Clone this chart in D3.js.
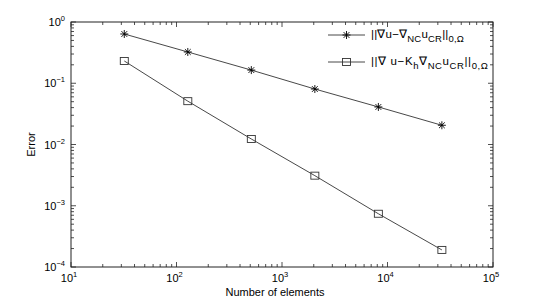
<!DOCTYPE html>
<html>
<head>
<meta charset="utf-8">
<script src="https://cdn.jsdelivr.net/npm/d3@7"></script>
<style>
  body { margin: 0; background: #fff; }
  text { font-family: "Liberation Sans", Arial, sans-serif; fill: #000; }
</style>
</head>
<body>
<div id="chart"></div>
<script>
const WIDTH = 545;
const HEIGHT = 300;

// data
const elements = [32, 128, 512, 2048, 8192, 32768];
const errGrad = [0.637, 0.324, 0.164, 0.0805, 0.041, 0.0206];
const errRecon = [0.231, 0.051, 0.0123, 0.0031, 0.00074, 0.00019];
const xTickExps = [1, 2, 3, 4, 5];
const yTickExps = [0, -1, -2, -3, -4];

const margin = { left: 71, right: 52, top: 22, bottom: 33 };
const w = WIDTH - margin.left - margin.right;
const h = HEIGHT - margin.top - margin.bottom;

const x = d3.scaleLog().domain([10, 1e5]).range([0, w]);
const y = d3.scaleLog().domain([1e-4, 1]).range([h, 0]);

const svg = d3.select('#chart').append('svg')
  .attr('width', WIDTH)
  .attr('height', HEIGHT);

const g = svg.append('g')
  .attr('transform', `translate(${margin.left},${margin.top})`);

// minor + major ticks (inward, all four sides)
const xMinor = [];
for (let e = 1; e < 5; e++) for (let m = 2; m <= 9; m++) xMinor.push(m * 10 ** e);
const yMinor = [];
for (let e = -4; e < 0; e++) for (let m = 2; m <= 9; m++) yMinor.push(m * 10 ** e);

const tickCol = '#222';
const ticks = g.append('g').attr('stroke', tickCol).attr('stroke-width', 0.8);

xTickExps.forEach(e => {
  const px = x(10 ** e);
  ticks.append('line').attr('x1', px).attr('x2', px).attr('y1', h).attr('y2', h - 5);
  ticks.append('line').attr('x1', px).attr('x2', px).attr('y1', 0).attr('y2', 5);
});
xMinor.forEach(v => {
  const px = x(v);
  ticks.append('line').attr('x1', px).attr('x2', px).attr('y1', h).attr('y2', h - 3);
  ticks.append('line').attr('x1', px).attr('x2', px).attr('y1', 0).attr('y2', 3);
});
yTickExps.forEach(e => {
  const py = y(10 ** e);
  ticks.append('line').attr('y1', py).attr('y2', py).attr('x1', 0).attr('x2', 5);
  ticks.append('line').attr('y1', py).attr('y2', py).attr('x1', w).attr('x2', w - 5);
});
yMinor.forEach(v => {
  const py = y(v);
  ticks.append('line').attr('y1', py).attr('y2', py).attr('x1', 0).attr('x2', 3);
  ticks.append('line').attr('y1', py).attr('y2', py).attr('x1', w).attr('x2', w - 3);
});

// frame
g.append('rect')
  .attr('width', w).attr('height', h)
  .attr('fill', 'none').attr('stroke', '#222').attr('stroke-width', 1);

// tick labels: 10 with superscript exponent
xTickExps.forEach(e => {
  const t = g.append('text')
    .attr('x', x(10 ** e) - 2).attr('y', h + 15)
    .attr('text-anchor', 'middle')
    .style('font-size', '11px');
  t.append('tspan').text('10');
  t.append('tspan').attr('dy', -5).style('font-size', '7.5px').text(e);
});
yTickExps.forEach(e => {
  const t = g.append('text')
    .attr('x', -6).attr('y', y(10 ** e) + 4)
    .attr('text-anchor', 'end')
    .style('font-size', '11px');
  t.append('tspan').text('10');
  t.append('tspan').attr('dy', -5).style('font-size', '7.5px').text(e === 0 ? '0' : '\u2212' + (-e));
});

// axis titles
g.append('text')
  .attr('x', w / 2 - 7).attr('y', h + 29)
  .attr('text-anchor', 'middle')
  .style('font-size', '11px')
  .text('Number of elements');
g.append('text')
  .attr('transform', `translate(${-36},${h / 2}) rotate(-90)`)
  .attr('text-anchor', 'middle')
  .style('font-size', '11px')
  .text('Error');

// series
const line = d3.line().x(d => x(d[0])).y(d => y(d[1]));
const lineCol = '#333';

function star(sel, cx, cy) {
  const r = 4;
  const s = sel.append('g').attr('stroke', '#000').attr('stroke-width', 0.9);
  [[r, 0], [0, r], [r * 0.72, r * 0.72], [r * 0.72, -r * 0.72]].forEach(([dx, dy]) => {
    s.append('line').attr('x1', cx - dx).attr('x2', cx + dx).attr('y1', cy - dy).attr('y2', cy + dy);
  });
}
function square(sel, cx, cy) {
  sel.append('rect')
    .attr('x', cx - 4).attr('y', cy - 3.5).attr('width', 8).attr('height', 7)
    .attr('fill', 'none').attr('stroke', '#333').attr('stroke-width', 0.9);
}

const s1 = elements.map((e, i) => [e, errGrad[i]]);
const s2 = elements.map((e, i) => [e, errRecon[i]]);

g.append('path').datum(s1).attr('d', line)
  .attr('fill', 'none').attr('stroke', lineCol).attr('stroke-width', 0.9);
g.append('path').datum(s2).attr('d', line)
  .attr('fill', 'none').attr('stroke', lineCol).attr('stroke-width', 0.9);

const m1 = g.append('g');
s1.forEach(d => star(m1, x(d[0]), y(d[1])));
const m2 = g.append('g');
s2.forEach(d => square(m2, x(d[0]), y(d[1])));

// legend (no box)
const leg = svg.append('g');
const legX0 = 328, legX1 = 365, legTx = 371;
function legendEntry(yy, marker, parts, spacing) {
  leg.append('line').attr('x1', legX0).attr('x2', legX1).attr('y1', yy).attr('y2', yy)
    .attr('stroke', lineCol).attr('stroke-width', 0.9);
  marker(leg, (legX0 + legX1) / 2, yy);
  const t = leg.append('text').attr('x', legTx).attr('y', yy + 3)
    .style('font-size', '11.5px')
    .style('letter-spacing', spacing + 'px');
  let shift = 0;
  parts.forEach(([txt, kind]) => {
    const target = kind === 'sub' ? 4 : 0;
    const ts = t.append('tspan').attr('dy', target - shift).text(txt);
    if (kind === 'sub') ts.style('font-size', '9.5px');
    shift = target;
  });
}
legendEntry(35, star, [
  ['||\u2207u\u2212\u2207', 'n'], ['NC', 'sub'], ['u', 'n'], ['CR', 'sub'], ['||', 'n'], ['0,\u03A9', 'sub']
], 0.2);
legendEntry(62, square, [
  ['||\u2207  u\u2212K', 'n'], ['h', 'sub'], ['\u2207', 'n'], ['NC', 'sub'], ['u', 'n'], ['CR', 'sub'], ['||', 'n'], ['0,\u03A9', 'sub']
], 0.6);
</script>
</body>
</html>
